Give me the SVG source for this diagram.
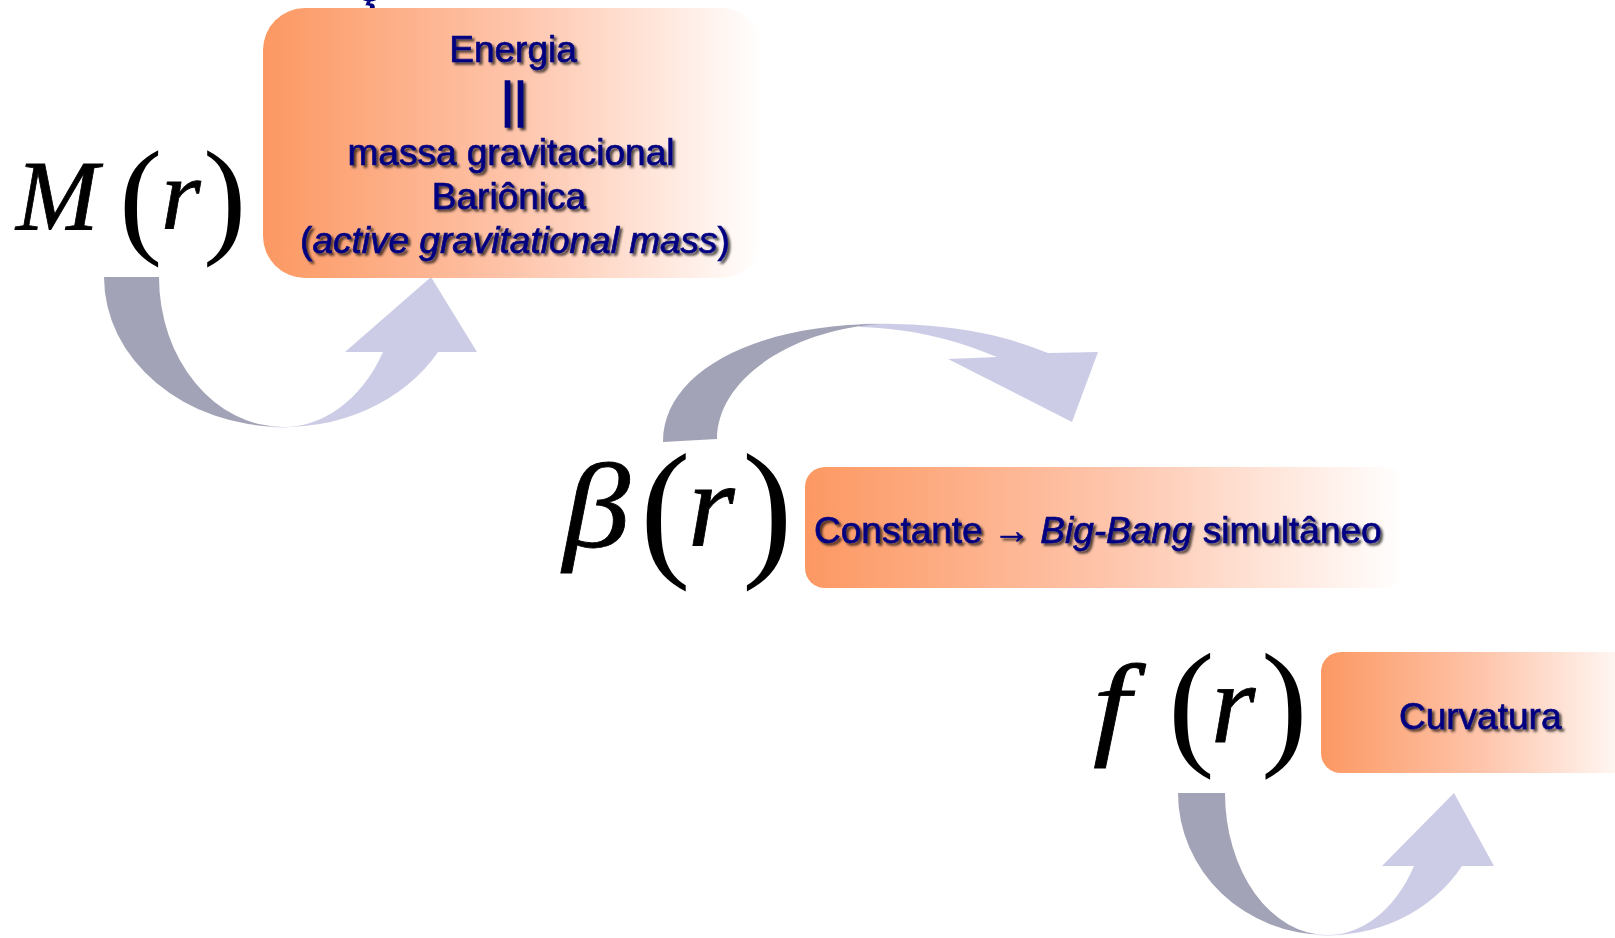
<svg xmlns="http://www.w3.org/2000/svg" width="1615" height="938" viewBox="0 0 1615 938">
<defs>
<linearGradient id="og" x1="0" y1="0" x2="1" y2="0">
<stop offset="0" stop-color="#FC9862"/>
<stop offset="0.5" stop-color="#FEC4AA"/>
<stop offset="1" stop-color="#FFFFFF"/>
</linearGradient>
<filter id="sh" x="-10%" y="-30%" width="120%" height="160%">
<feDropShadow dx="2.5" dy="2.5" stdDeviation="1.2" flood-color="#000" flood-opacity="0.7"/>
</filter>
</defs>
<style>
.lbl{font-family:"Liberation Sans",Arial,sans-serif;font-size:37px;fill:#000080;stroke:#000080;stroke-width:0.7px;filter:url(#sh)}
.m{font-family:"Liberation Serif","Times New Roman",serif;font-style:italic;fill:#000;stroke:#000;stroke-width:0.8px}
.p{font-family:"Liberation Serif","Times New Roman",serif;fill:#000}
.dk{fill:#A3A3B8}
.lt{fill:#CCCCE6}
</style>
<text x="354" y="1" style="font-family:'Liberation Sans',Arial,sans-serif;font-size:54px;font-weight:bold;fill:#000080">ç</text>
<g id="connectors">
<path class="dk" d="M104,277 L159,277 A124,150 0 0 0 283,427 A179,150 0 0 1 104,277 Z"/>
<path class="lt" d="M280,427 A115,150 0 0 0 383,352 L345,352 L431,277 L477,352 L438,352 A179,150 0 0 1 270,427 Z"/>
<path class="lt" d="M860,324 C960,322 1010,338 1048,353 L1098,352 L1072,422 L948,359 L997,357 C960,342 920,329 860,327 Z"/>
<path class="dk" d="M663,442 C663,372 755,324 880,324 C790,330 717,380 717,439 Z"/>
<path class="dk" d="M1178,793 L1225,793 A102,142 0 0 0 1327,935 A149,142 0 0 1 1178,793 Z"/>
<path class="lt" d="M1324,935 A101,142 0 0 0 1414,866 L1382,866 L1454,793 L1494,866 L1462,866 A157,142 0 0 1 1315,935 Z"/>
</g>
<g id="node-M">
<rect x="263" y="8" width="500" height="270" rx="42" fill="url(#og)"/>
<text class="lbl" x="513" y="62" text-anchor="middle">Energia</text>
<text class="lbl" x="514" y="117" text-anchor="middle" style="font-size:50px;stroke-width:1.6px">||</text>
<text class="lbl" x="511" y="165" text-anchor="middle">massa gravitacional</text>
<text class="lbl" x="509" y="209" text-anchor="middle">Bariônica</text>
<text class="lbl" x="515" y="253" text-anchor="middle">(<tspan font-style="italic">active gravitational mass</tspan>)</text>
</g>
<g id="eq-M">
<text class="m" x="16" y="229" font-size="99">M</text>
<text class="p" x="119" y="240" font-size="130">(</text>
<text class="m" x="161" y="229" font-size="102">r</text>
<text class="p" x="203" y="240" font-size="130">)</text>
</g>
<g id="node-beta">
<rect x="805" y="467" width="600" height="121" rx="20" fill="url(#og)"/>
<text class="lbl" x="814" y="543">Constante → <tspan font-style="italic">Big-Bang</tspan> simultâneo</text>
</g>
<g id="eq-beta">
<text class="m" x="563" y="547" font-size="120" transform="translate(563 547) scale(1.12 1) translate(-563 -547)">β</text>
<text class="p" x="640" y="559" font-size="152">(</text>
<text class="m" x="688" y="546" font-size="120">r</text>
<text class="p" x="742" y="559" font-size="152">)</text>
</g>
<g id="node-f">
<rect x="1321" y="652" width="320" height="121" rx="20" fill="url(#og)"/>
<text class="lbl" x="1399" y="729">Curvatura</text>
</g>
<g id="eq-f">
<text class="m" x="1093" y="744" font-size="114" transform="translate(1093 744) scale(1.18 1) translate(-1093 -744)">f</text>
<text class="p" x="1168" y="750" font-size="140">(</text>
<text class="m" x="1211" y="742" font-size="114">r</text>
<text class="p" x="1261" y="750" font-size="140">)</text>
</g>
</svg>
